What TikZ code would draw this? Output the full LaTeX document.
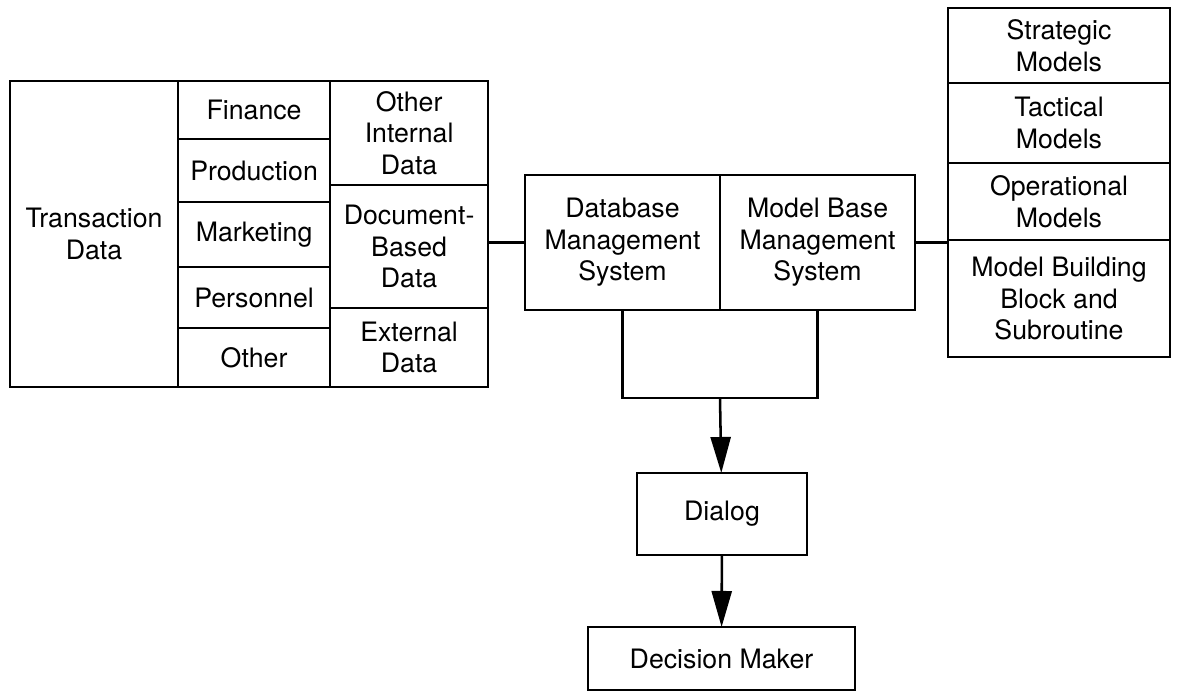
\documentclass[tikz,border=0pt]{standalone}
\usepackage{fontspec}
\setmainfont{TeX Gyre Heros}
\usetikzlibrary{arrows.meta,positioning}

\begin{document}
\begin{tikzpicture}[
      x=0.025cm, y=-0.025cm,
      node distance=0pt,
      cell/.style={draw, line width=1.8pt, outer sep=0pt, inner sep=2pt,
                   align=center, font=\fontsize{19}{22.5}\selectfont},
      midcol/.style={cell, minimum width=3.8cm},
      rgtcol/.style={cell, minimum width=3.95cm},
      modcol/.style={cell, minimum width=5.55cm},
      mgmt/.style={cell, minimum width=4.875cm, minimum height=3.375cm},
      line/.style={line width=1.8pt},
      arr/.style={line width=1.8pt, -{Triangle[length=9mm, width=5mm]}}]
    \useasboundingbox (0,0) rectangle (1180,695);
    % data base
    \node[cell, anchor=north west, minimum width=4.2cm, minimum height=7.65cm]
      (trans) at (10,81) {Transaction\\Data};
    \node[midcol, anchor=north west, minimum height=1.45cm] (fin) at (trans.north east) {Finance};
    \node[midcol, below=of fin, minimum height=1.575cm] (prod) {Production};
    \node[midcol, below=of prod, minimum height=1.625cm] (mkt) {Marketing};
    \node[midcol, below=of mkt, minimum height=1.525cm] (pers) {Personnel};
    \node[midcol, below=of pers, minimum height=1.475cm] (oth) {Other};
    \node[rgtcol, anchor=north west, minimum height=2.6cm] (oid) at (fin.north east) {Other\\Internal\\Data};
    \node[rgtcol, below=of oid, minimum height=3.075cm] (doc) {Document-\\Based\\Data};
    \node[rgtcol, below=of doc, minimum height=1.975cm] (ext) {External\\Data};
    % management systems
    \node[mgmt, anchor=north west] (dbms) at (525,175) {Database\\Management\\System};
    \node[mgmt, right=of dbms] (mbms) {Model Base\\Management\\System};
    % model base
    \node[modcol, anchor=north west, minimum height=1.875cm] (strat) at (948,8) {Strategic\\Models};
    \node[modcol, below=of strat, minimum height=2.0cm] (tact) {Tactical\\Models};
    \node[modcol, below=of tact, minimum height=1.925cm] (oper) {Operational\\Models};
    \node[modcol, below=of oper, minimum height=2.925cm] (mbb) {Model Building\\Block and\\Subroutine};
    % user side
    \node[cell, minimum width=4.25cm, minimum height=2.05cm] (dialog) at (722,514) {Dialog};
    \node[cell, minimum width=6.675cm, minimum height=1.575cm] (dm) at (721.5,658.5) {Decision Maker};
    \coordinate (jn) at (720,398);
    \draw[line] (dbms.west -| doc.east) -- (dbms.west);
    \draw[line] (mbms.east) -- (mbms.east -| oper.west);
    \draw[line] (dbms.south) |- (jn) -| (mbms.south);
    \draw[arr] (jn) -- (dialog);
    \draw[arr] (dialog) -- (dm);
  \end{tikzpicture}
\end{document}
